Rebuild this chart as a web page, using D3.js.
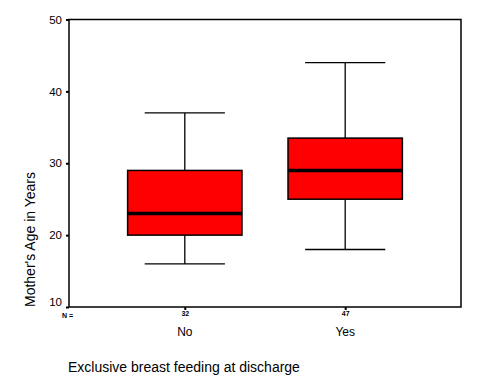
<!DOCTYPE html>
<html><head><meta charset="utf-8">
<script src="https://cdn.jsdelivr.net/npm/d3@7"></script>
<style>body{margin:0;background:#fff}svg{display:block}text{font-family:Arial,"Liberation Sans",sans-serif;fill:#000}</style>
</head><body>
<script>
const categories = ["No", "Yes"];
const counts = [32, 47];
const whiskerLow = [16, 18];
const q1 = [20, 25];
const median = [23, 29];
const q3 = [29, 33.5];
const whiskerHigh = [37, 44];
const yTicks = [10, 20, 30, 40, 50];
const yTitle = "Mother's Age in Years";
const xTitle = "Exclusive breast feeding at discharge";

const W = 480, H = 384;
const L = 69, R = 461, T = 19.5, B = 307;
const svg = d3.select("body").append("svg").attr("width", W).attr("height", H);

const y = d3.scaleLinear().domain([10, 50]).range([B, T]);
const x = d3.scalePoint().domain(categories).range([L, R]).padding(0.722);
const step = x.step();
const boxW = step * 0.713, capW = step * 0.5;

const data = categories.map((c, i) => ({c, n: counts[i], lo: whiskerLow[i], q1: q1[i], med: median[i], q3: q3[i], hi: whiskerHigh[i]}));

const g = svg.append("g");
data.forEach(d => {
  const cx = x(d.c);
  g.append("line").attr("x1", cx).attr("x2", cx).attr("y1", y(d.hi)).attr("y2", y(d.q3)).attr("stroke", "#000").attr("stroke-width", 1.3);
  g.append("line").attr("x1", cx).attr("x2", cx).attr("y1", y(d.q1)).attr("y2", y(d.lo)).attr("stroke", "#000").attr("stroke-width", 1.3);
  g.append("line").attr("x1", cx - capW/2).attr("x2", cx + capW/2).attr("y1", y(d.hi)).attr("y2", y(d.hi)).attr("stroke", "#000").attr("stroke-width", 1.3);
  g.append("line").attr("x1", cx - capW/2).attr("x2", cx + capW/2).attr("y1", y(d.lo)).attr("y2", y(d.lo)).attr("stroke", "#000").attr("stroke-width", 1.3);
  g.append("rect").attr("x", cx - boxW/2).attr("y", y(d.q3)).attr("width", boxW).attr("height", y(d.q1) - y(d.q3))
    .attr("fill", "#ff0000").attr("stroke", "#000").attr("stroke-width", 1.5);
  g.append("line").attr("x1", cx - boxW/2).attr("x2", cx + boxW/2).attr("y1", y(d.med)).attr("y2", y(d.med)).attr("stroke", "#000").attr("stroke-width", 3.5);
});

// frame
svg.append("rect").attr("x", L).attr("y", T).attr("width", R - L).attr("height", B - T)
  .attr("fill", "none").attr("stroke", "#000").attr("stroke-width", 1.5);

// y axis
const yAxis = d3.axisLeft(y).tickValues(yTicks).tickSize(3).tickPadding(4);
const ya = svg.append("g").attr("transform", `translate(${L},0)`).call(yAxis);
ya.select(".domain").remove();
ya.selectAll(".tick line").attr("stroke", "#000").attr("stroke-width", 2);
ya.selectAll(".tick text").attr("font-size", 11.5).attr("font-family", "Arial, 'Liberation Sans', sans-serif").attr("fill", "#000")
  .attr("y", d => d === 10 ? -5 : 0);

// x axis (ticks + N labels)
const xAxis = d3.axisBottom(x).tickSize(3).tickFormat((c, i) => counts[i]).tickPadding(2);
const xa = svg.append("g").attr("transform", `translate(0,${B})`).call(xAxis);
xa.select(".domain").remove();
xa.selectAll(".tick line").attr("stroke", "#000").attr("stroke-width", 2);
xa.selectAll(".tick text").attr("font-size", 7).attr("font-weight", "bold").attr("font-family", "Arial, 'Liberation Sans', sans-serif").attr("fill", "#000").attr("dy", "0.55em");
svg.append("text").attr("x", 62).attr("y", 318).attr("font-size", 7).attr("font-weight", "bold").text("N =");

// category labels
svg.selectAll(".cat").data(categories).enter().append("text").attr("class", "cat")
  .attr("x", d => x(d)).attr("y", 336).attr("text-anchor", "middle").attr("font-size", 12).text(d => d);

// titles
svg.append("text").attr("transform", `translate(35,${B}) rotate(-90)`).attr("font-size", 14).text(yTitle);
svg.append("text").attr("x", 68).attr("y", 372).attr("font-size", 14).text(xTitle);
</script>
</body></html>
